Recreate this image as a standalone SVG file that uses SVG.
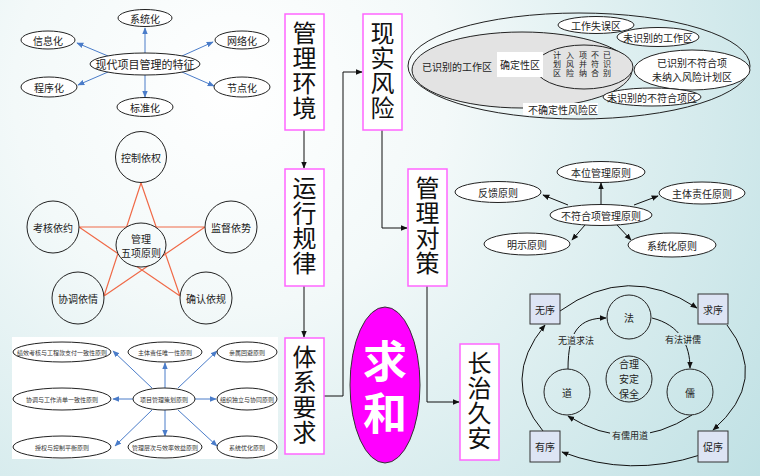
<svg xmlns="http://www.w3.org/2000/svg" width="760" height="476" viewBox="0 0 760 476">
<defs>
<radialGradient id="bg" gradientUnits="userSpaceOnUse" cx="230" cy="90" r="720">
<stop offset="0" stop-color="#ffffff"/>
<stop offset="0.3" stop-color="#f3f9f9"/>
<stop offset="1" stop-color="#b8dde1"/>
</radialGradient>
<marker id="ab" viewBox="0 0 10 10" refX="9" refY="5" markerWidth="7" markerHeight="7" orient="auto"><path d="M0,1 L10,5 L0,9 z" fill="#4a7cc9"/></marker>
<marker id="ak" viewBox="0 0 10 10" refX="9" refY="5" markerWidth="7" markerHeight="7" orient="auto"><path d="M0,1 L10,5 L0,9 z" fill="#111"/></marker>
<style>
text{font-family:"Noto Sans CJK SC","Noto Sans",sans-serif;text-anchor:middle;dominant-baseline:central;fill:#222}
.e{fill:#fff;stroke:#222;stroke-width:1}
.eb{fill:url(#bg);stroke:#222;stroke-width:1}
.bl{stroke:#4a7cc9;stroke-width:1;fill:none;marker-end:url(#ab)}
.bk{stroke:#111;stroke-width:1;fill:none;marker-end:url(#ak)}
.st{stroke:#f06a48;stroke-width:1.2;fill:none}
.box{fill:#fff;stroke:#ff66ff;stroke-width:1.5}
.big{font-size:24px;fill:#111;writing-mode:vertical-rl;text-anchor:start;letter-spacing:1px}
.vt{font-size:8px;writing-mode:vertical-rl;text-anchor:start;letter-spacing:1px}
.s11{font-size:11px}
.s10{font-size:10px}
.s9{font-size:9px}
.s6{font-size:6px;fill:#333}
.sq{fill:#dde4f4;stroke:#333;stroke-width:1}
</style>
</defs>
<rect width="760" height="476" fill="url(#bg)"/>
<rect x="12" y="337" width="266" height="122" fill="#fff"/>

<!-- connectors -->
<g id="connectors">
<path class="bl" d="M145,53 L145,28"/>
<path class="bl" d="M108,56 L77,43"/>
<path class="bl" d="M182,56 L213,42"/>
<path class="bl" d="M108,72 L78,85"/>
<path class="bl" d="M182,72 L214,86"/>
<path class="bl" d="M145,75 L145,97"/>
<path class="st" d="M141,183 L104,296 M141,183 L180,296 M79,227 L205,227 M79,227 L180,296 M205,227 L104,296"/>
<path class="bl" d="M165,389 L165,363"/>
<path class="bl" d="M152,388 L113,351"/>
<path class="bl" d="M178,388 L217,351"/>
<path class="bl" d="M133,399 L113,399"/>
<path class="bl" d="M195,399 L216,399"/>
<path class="bl" d="M152,410 L115,446"/>
<path class="bl" d="M165,410 L165,436"/>
<path class="bl" d="M178,410 L217,446"/>
<path class="bk" d="M304,130 L304,168"/>
<path class="bk" d="M304,286 L304,337"/>
<path class="bk" d="M324,396 L343,396 L343,72 L362,72"/>
<path class="bk" d="M382,130 L382,228 L407,228"/>
<path class="bk" d="M427,286 L427,402 L459,402"/>
<path class="bk" d="M601,205 L601,183"/>
<path class="bk" d="M568,205 L543,195"/>
<path class="bk" d="M634,205 L658,196"/>
<path class="bk" d="M585,225 L572,240"/>
<path class="bk" d="M617,225 L631,240"/>
<path class="bk" d="M560,311 Q628,262 697,308"/>
<path class="bk" d="M727,325 Q770,380 713,430"/>
<path class="bk" d="M700,455 Q630,478 562,452"/>
<path class="bk" d="M543,431 Q500,380 545,325"/>
<path class="bk" d="M568,369 C568,330 580,318 606,318"/>
<path class="bk" d="M652,318 C680,325 690,345 690,368"/>
<path class="bk" d="M692,415 Q630,455 568,416"/>
</g>

<!-- top-left features -->
<g id="n-tezheng"><ellipse class="e" cx="145" cy="64" rx="55" ry="11"/><text class="s11" x="145" y="64">现代项目管理的特征</text></g>
<g id="n-xitonghua"><ellipse class="e" cx="145" cy="18" rx="27" ry="8.5"/><text class="s10" x="145" y="18">系统化</text></g>
<g id="n-xinxihua"><ellipse class="e" cx="48" cy="40" rx="27" ry="9"/><text class="s10" x="48" y="40">信息化</text></g>
<g id="n-wangluohua"><ellipse class="e" cx="242" cy="40" rx="27" ry="9"/><text class="s10" x="242" y="40">网络化</text></g>
<g id="n-chengxuhua"><ellipse class="e" cx="49" cy="87" rx="28" ry="10"/><text class="s10" x="49" y="87">程序化</text></g>
<g id="n-jiedianhua"><ellipse class="e" cx="242" cy="87" rx="28" ry="10"/><text class="s10" x="242" y="87">节点化</text></g>
<g id="n-biaozhunhua"><ellipse class="e" cx="145" cy="107" rx="28" ry="9.5"/><text class="s10" x="145" y="107">标准化</text></g>

<!-- star -->
<g id="n-kongzhi"><circle class="eb" cx="141" cy="157" r="25.5"/><text class="s10" x="141" y="157">控制依权</text></g>
<g id="n-kaohe"><circle class="eb" cx="53" cy="227" r="26"/><text class="s10" x="53" y="227">考核依约</text></g>
<g id="n-jiandu"><circle class="eb" cx="231" cy="227" r="26"/><text class="s10" x="231" y="227">监督依势</text></g>
<g id="n-xietiao"><circle class="eb" cx="78" cy="298" r="26"/><text class="s10" x="78" y="298">协调依情</text></g>
<g id="n-queren"><circle class="eb" cx="206" cy="298" r="26"/><text class="s10" x="206" y="298">确认依规</text></g>
<g id="n-wuxiang"><ellipse class="eb" cx="141" cy="245" rx="25" ry="22"/><text class="s10" x="141" y="238">管理</text><text class="s10" x="141" y="252">五项原则</text></g>

<!-- bottom-left planning -->
<g id="n-cehua"><ellipse class="e" cx="164" cy="399" rx="31" ry="11"/><text class="s6" x="164" y="399">项目管理策划原则</text></g>
<g id="n-jixiao"><ellipse class="e" cx="62" cy="352" rx="49" ry="10"/><text class="s6" x="62" y="352">绩效考核与工程款支付一致性原则</text></g>
<g id="n-zhuti1"><ellipse class="e" cx="165" cy="352" rx="37" ry="10"/><text class="s6" x="165" y="352">主体责任唯一性原则</text></g>
<g id="n-qinshu"><ellipse class="e" cx="247" cy="352" rx="30" ry="10"/><text class="s6" x="247" y="352">亲属回避原则</text></g>
<g id="n-xietiao2"><ellipse class="e" cx="62" cy="399" rx="49" ry="11"/><text class="s6" x="62" y="399">协调与工作清单一致性原则</text></g>
<g id="n-zuzhi"><ellipse class="e" cx="247" cy="399" rx="30" ry="11"/><text class="s6" x="247" y="399">组织独立与协同原则</text></g>
<g id="n-shouquan"><ellipse class="e" cx="62" cy="447" rx="49" ry="11"/><text class="s6" x="62" y="447">授权与控制平衡原则</text></g>
<g id="n-cengci"><ellipse class="e" cx="165" cy="447" rx="37" ry="11"/><text class="s6" x="165" y="447">管理层次与效率效益原则</text></g>
<g id="n-youhua"><ellipse class="e" cx="247" cy="447" rx="30" ry="11"/><text class="s6" x="247" y="447">系统优化原则</text></g>

<!-- middle column -->
<g id="n-huanjing"><rect class="box" x="285" y="14" width="39" height="116"/><text class="big" x="304.5" y="21">管理环境</text></g>
<g id="n-guilv"><rect class="box" x="285" y="169" width="39" height="117"/><text class="big" x="304.5" y="176">运行规律</text></g>
<g id="n-yaoqiu"><rect class="box" x="285" y="338" width="39" height="116"/><text class="big" x="304.5" y="345">体系要求</text></g>
<g id="n-fengxian"><rect class="box" x="363" y="14" width="39" height="116"/><text class="big" x="382.5" y="21">现实风险</text></g>
<g id="n-duice"><rect class="box" x="408" y="169" width="39" height="117"/><text class="big" x="427.5" y="176">管理对策</text></g>
<g id="n-changzhi"><rect class="box" x="460" y="344" width="39" height="116"/><text class="big" x="479.5" y="351">长治久安</text></g>
<g id="n-qiuhe"><ellipse cx="385" cy="385" rx="35" ry="78" fill="#ff00ff" stroke="#333" stroke-width="1"/><text x="385" y="391" style="font-size:44px;fill:#fff;font-weight:bold;writing-mode:vertical-rl;letter-spacing:8px">求和</text></g>

<!-- top-right risk zones -->
<g id="n-risk">
<ellipse cx="579" cy="66" rx="171" ry="53" fill="none" stroke="#222"/>
<ellipse cx="522" cy="70" rx="110" ry="38" fill="#e3e3e3" stroke="#222"/>
<ellipse cx="584" cy="67" rx="49" ry="22" fill="#e3e3e3" stroke="#222"/>
<rect x="497" y="52" width="46" height="25" fill="#fff"/>
<text class="s10" x="520" y="64.5">确定性区</text>
<text class="s10" x="457" y="66">已识别的工作区</text>
<text class="vt" x="607" y="50.5">已识别</text>
<text class="vt" x="595" y="50.5">不符合</text>
<text class="vt" x="583" y="50.5">项并纳</text>
<text class="vt" x="570" y="50.5">入风险</text>
<text class="vt" x="557" y="50.5">计划区</text>
<rect x="523" y="103" width="75" height="12" fill="#fff"/>
<text class="s10" x="563" y="109">不确定性风险区</text>
</g>
<g id="n-shiwu"><ellipse class="e" cx="596" cy="25" rx="38" ry="8.5"/><text class="s10" x="596" y="25">工作失误区</text></g>
<g id="n-weishibie"><ellipse class="e" cx="658" cy="37" rx="41" ry="9.5"/><text class="s10" x="658" y="37">未识别的工作区</text></g>
<g id="n-weinaru"><ellipse class="e" cx="692" cy="70" rx="58" ry="20"/><text class="s10" x="692" y="62">已识别不符合项</text><text class="s10" x="692" y="76">未纳入风险计划区</text></g>
<g id="n-weibuhege"><ellipse class="e" cx="652" cy="97" rx="49" ry="9"/><text class="s10" x="652" y="97">未识别的不符合项区</text></g>

<!-- middle-right principles -->
<g id="n-buhege"><ellipse class="e" cx="601" cy="215" rx="51" ry="10.5"/><text class="s10" x="601" y="215">不符合项管理原则</text></g>
<g id="n-benwei"><ellipse class="e" cx="601" cy="172" rx="44" ry="10.5"/><text class="s10" x="601" y="172">本位管理原则</text></g>
<g id="n-fankui"><ellipse class="e" cx="498" cy="192" rx="43" ry="10.5"/><text class="s10" x="498" y="192">反馈原则</text></g>
<g id="n-zhuti2"><ellipse class="e" cx="702" cy="193" rx="43" ry="11"/><text class="s10" x="702" y="193">主体责任原则</text></g>
<g id="n-mingshi"><ellipse class="e" cx="527" cy="244" rx="43" ry="11"/><text class="s10" x="527" y="244">明示原则</text></g>
<g id="n-xitong2"><ellipse class="e" cx="672" cy="245" rx="44" ry="12"/><text class="s10" x="672" y="245">系统化原则</text></g>

<!-- bottom-right cycle -->
<g id="n-wuxu"><rect class="sq" x="530" y="294" width="30" height="30"/><text class="s10" x="545" y="309">无序</text></g>
<g id="n-qiuxu"><rect class="sq" x="698" y="294" width="30" height="30"/><text class="s10" x="713" y="309">求序</text></g>
<g id="n-youxu"><rect class="sq" x="530" y="431" width="30" height="31"/><text class="s10" x="545" y="446.5">有序</text></g>
<g id="n-cuxu"><rect class="sq" x="698" y="431" width="30" height="31"/><text class="s10" x="713" y="446.5">促序</text></g>
<g id="n-fa"><circle class="eb" cx="629" cy="317" r="22"/><text class="s10" x="629" y="317">法</text></g>
<g id="n-dao"><circle class="eb" cx="567" cy="392" r="23"/><text class="s10" x="567" y="392">道</text></g>
<g id="n-ru"><circle class="eb" cx="690" cy="392" r="23"/><text class="s10" x="690" y="392">儒</text></g>
<g id="n-heli"><circle class="eb" cx="629" cy="379" r="23"/><text class="s10" x="629" y="363">合理</text><text class="s10" x="629" y="378">安定</text><text class="s10" x="629" y="393">保全</text></g>
<g id="labels">
<rect x="556" y="334" width="40" height="12" fill="url(#bg)"/><text class="s9" x="576" y="340">无道求法</text>
<rect x="663" y="333" width="40" height="12" fill="url(#bg)"/><text class="s9" x="683" y="339">有法讲儒</text>
<rect x="610" y="429" width="40" height="12" fill="url(#bg)"/><text class="s9" x="630" y="435">有儒用道</text>
</g>
</svg>
